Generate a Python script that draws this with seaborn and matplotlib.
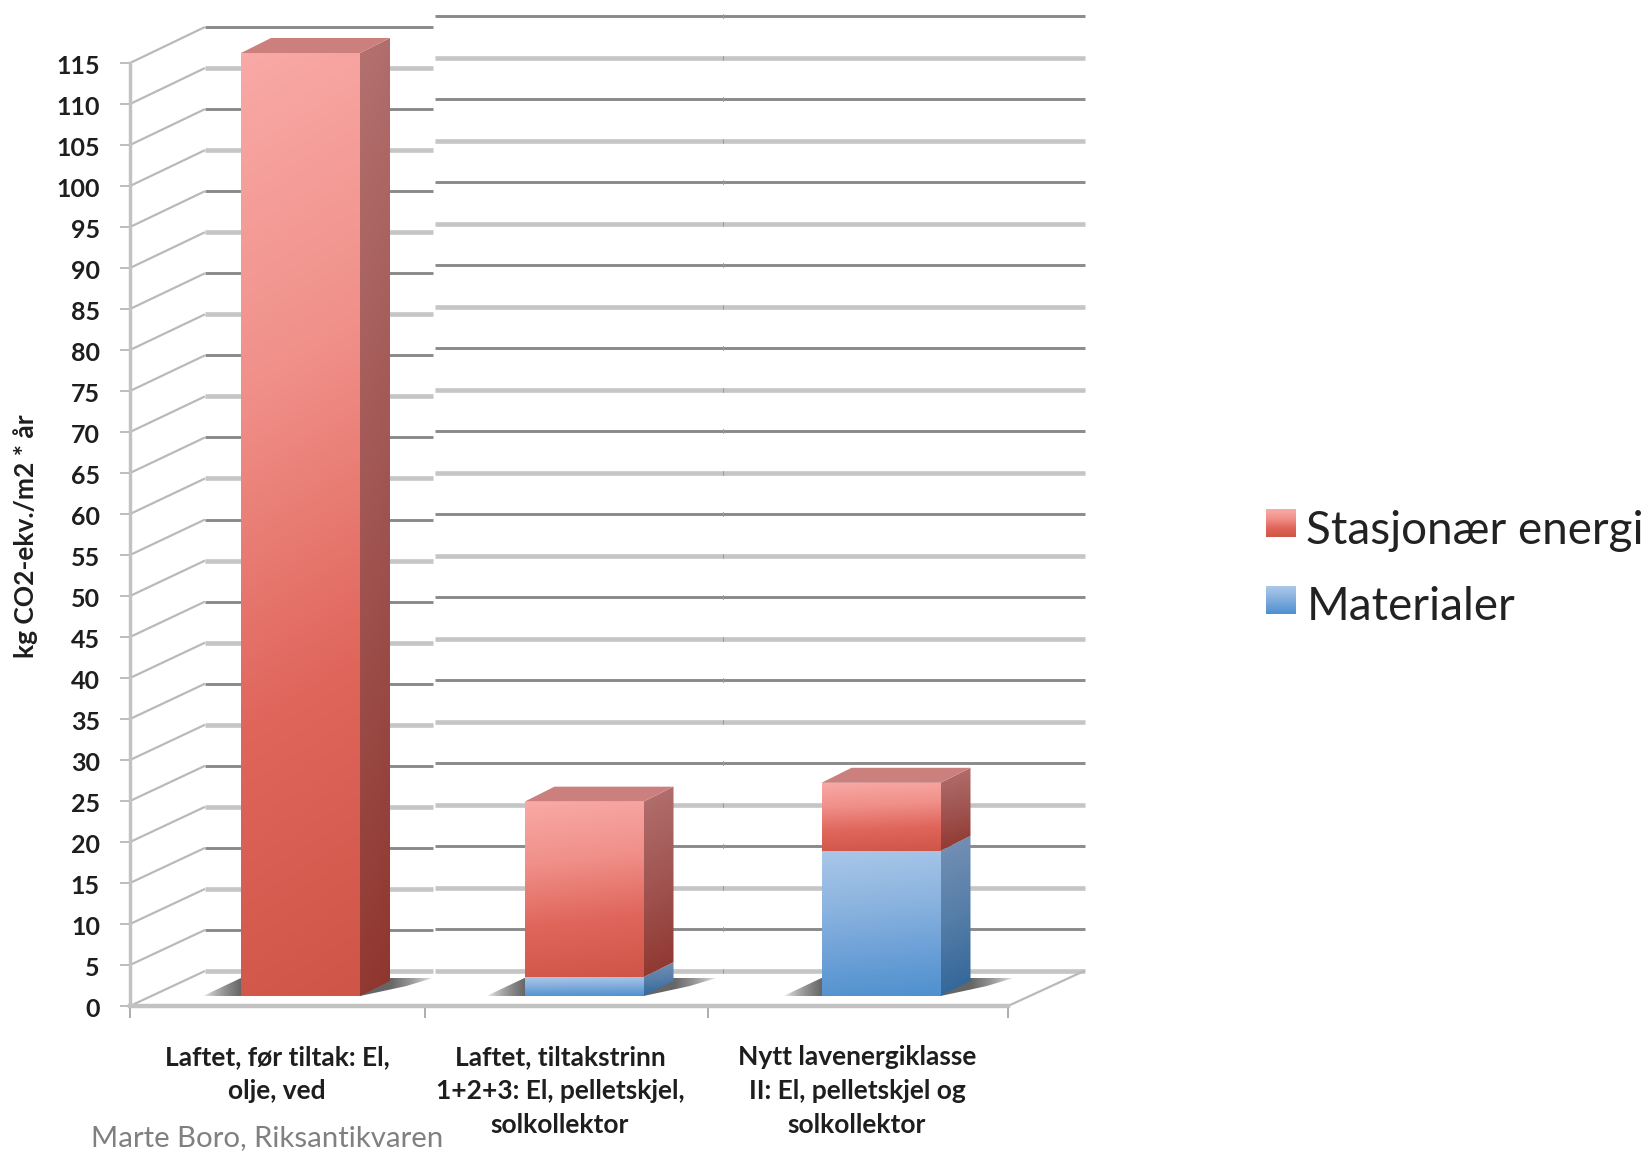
import numpy as np
import pandas as pd
import matplotlib
matplotlib.use("Agg")
import matplotlib.pyplot as plt
from matplotlib.colors import LinearSegmentedColormap, to_rgb
from matplotlib.legend_handler import HandlerBase
from matplotlib.patches import Patch, Polygon, Rectangle
from matplotlib.transforms import ScaledTranslation
import seaborn as sns

# Values, kg CO2-eq. per m2 per year
categories = [
    "Laftet, før tiltak: El,\nolje, ved",
    "Laftet, tiltakstrinn\n1+2+3: El, pelletskjel,\nsolkollektor",
    "Nytt lavenergiklasse\nII: El, pelletskjel og\nsolkollektor",
]
materialer = [0.0, 2.3, 17.7]
stasjonaer = [115.0, 21.4, 8.3]
y_ticks = list(range(0, 120, 5))
series_names = ["Stasjonær energi", "Materialer"]
y_title = "kg CO2-ekv./m2 * år"
credit = "Marte Boro, Riksantikvaren"

# Layout, in pixels of the 1647x1152 canvas
W, H = 1647, 1152
BAR_CENTRES = [300.5, 584.0, 881.0]
BAR_WIDTH = 119.0
LABEL_CENTRES = [277, 560, 857]
X_BOUNDS = [130, 425, 708, 1008]
FRONT_ZERO, FRONT_TOP = 1006.0, 63.0
BASE_PX, PX_PER_UNIT = 996.0, 8.2
DEPTH_PX, DEPTH_UP = 30.0, 15.0

RED_FRONT = ["#F9A9A6", "#F09089", "#E0665C", "#CF5548"]
BLUE_FRONT = ["#A9C7E9", "#8FB6E0", "#6FA2D8", "#4F90CE"]
RED_SIDE = ["#B3716F", "#A05552", "#8F352D"]
BLUE_SIDE = ["#7791B6", "#557EA8", "#2F6496"]
RED_TOP = "#CB807E"
GRID_DARK, GRID_LIGHT = "#8A8A8A", "#C5C5C5"
AXIS_GREY = "#C2C2C2"
INK = "#1E1E1E"

sns.set_theme(style="white")
plt.rcParams["font.family"] = ["Lato", "DejaVu Sans"]
px = 0.72  # one pixel in points at 100 dpi

fig = plt.figure(figsize=(W / 100, H / 100), dpi=100, facecolor="white")

# Back wall, side wall and floor, drawn in canvas pixels
wall = fig.add_axes([0, 0, 1, 1], zorder=0)
wall.set_xlim(0, W)
wall.set_ylim(H, 0)
wall.axis("off")

front_y = lambda v: FRONT_ZERO - (FRONT_ZERO - FRONT_TOP) * v / 115
back_left_y = lambda v: 971.0 - (971.0 - 27.0) * v / 115
back_right_y = lambda v: 970.6 - (970.6 - 16.0) * v / 115

for i, v in enumerate(y_ticks):
    dark = i % 2 == 1
    colour = GRID_DARK if dark else GRID_LIGHT
    lw = (2.9 if dark else 4.6) * px
    wall.plot([130, 205], [front_y(v), back_left_y(v)], color="#B9B9B9",
              lw=2.2 * px, solid_capstyle="butt")
    wall.plot([205, 433], [back_left_y(v)] * 2, color=colour, lw=lw,
              solid_capstyle="butt")
    wall.plot([434.5, 1085], [back_right_y(v)] * 2, color=colour, lw=lw,
              solid_capstyle="butt")
    wall.plot([722.5, 722.5], [back_right_y(v) - 2, back_right_y(v) + 2],
              color="#9A9A9A", lw=1.0 * px)
wall.plot([1008, 1085], [FRONT_ZERO, back_right_y(0)], color="#B9B9B9",
          lw=2.2 * px, solid_capstyle="butt")

# Front axes: value scale and category boundaries
front = fig.add_axes([130 / W, 1 - FRONT_ZERO / H, (1008 - 130) / W,
                      (FRONT_ZERO - FRONT_TOP) / H], zorder=1)
front.patch.set_alpha(0)
front.set_xlim(130, 1008)
front.set_ylim(0, 115)
front.set_yticks(y_ticks, [str(v) for v in y_ticks])
front.set_xticks(X_BOUNDS, [""] * len(X_BOUNDS))
front.set_xticks(LABEL_CENTRES, categories, minor=True, ha="center", va="top",
                 fontsize=19.0, fontweight="bold", color=INK, linespacing=1.5)
front.tick_params(axis="y", length=10 * px, width=1.6 * px, color="#AFAFAF",
                  pad=20 * px, labelsize=18, labelcolor=INK, left=True)
front.tick_params(axis="x", which="major", length=12 * px, width=1.6 * px,
                  color="#9C9C9C", bottom=True)
front.tick_params(axis="x", which="minor", length=0, pad=39 * px)
nudge = ScaledTranslation(0, -1.5 / 100, fig.dpi_scale_trans)
for label in front.get_yticklabels():
    label.set_fontweight("bold")
    label.set_verticalalignment("center_baseline")
    label.set_transform(label.get_transform() + nudge)
sns.despine(ax=front, top=True, right=True)
front.spines["left"].set(color=AXIS_GREY, linewidth=3.4 * px)
front.spines["bottom"].set(color=AXIS_GREY, linewidth=4.4 * px)
wall.plot([433.5, 433.5], [FRONT_ZERO - 4, FRONT_ZERO + 4], color="white",
          lw=1.5 * px, zorder=5)
front.set_ylabel(y_title, fontsize=19, fontweight="bold", color=INK)
front.yaxis.set_label_coords(38 / W, 1 - 536 / H, transform=fig.transFigure)

# Bars on the mid-depth plane; y is in data units, x in canvas pixels
bars = fig.add_axes([0, 0, 1, 1], zorder=2)
bars.patch.set_alpha(0)
table = pd.DataFrame({"pos": BAR_CENTRES, "category": categories,
                      "Materialer": materialer,
                      "Stasjonær energi": stasjonaer})
lower = table[table["Materialer"] > 0]
sns.barplot(data=lower, x="pos", y="Materialer", native_scale=True, ax=bars,
            width=BAR_WIDTH / (BAR_CENTRES[2] - BAR_CENTRES[1]), color="#6FA2D8",
            errorbar=None)
n_lower = len(bars.patches)
for centre, bottom, value in zip(BAR_CENTRES, materialer, stasjonaer):
    bars.bar(centre, value, width=BAR_WIDTH, bottom=bottom, color="#E0665C")
y_low = (BASE_PX - H) / PX_PER_UNIT
y_high = BASE_PX / PX_PER_UNIT
bars.set_xlim(0, W)
bars.set_ylim(y_low, y_high)
bars.set_autoscale_on(False)
bars.axis("off")
up = DEPTH_UP / PX_PER_UNIT


def gradient_fill(ax, verts, stops, zorder):
    """Fill a polygon with a top-to-bottom gradient that leans slightly sideways."""
    verts = np.asarray(verts, dtype=float)
    x0, y0 = verts.min(axis=0)
    x1, y1 = verts.max(axis=0)
    cmap = LinearSegmentedColormap.from_list("face", stops)
    rows = np.linspace(0, 1, 200)[:, None]
    cols = np.linspace(0, 1, 40)[None, :]
    image = ax.imshow(np.clip(0.93 * rows + 0.07 * cols, 0, 1), cmap=cmap,
                      vmin=0, vmax=1, extent=[x0, x1, y0, y1], origin="upper",
                      aspect="auto", interpolation="bilinear", zorder=zorder)
    clip = Polygon(verts, closed=True, transform=ax.transData)
    image.set_clip_path(clip)
    return image


def floor_shadow(ax, x0, x1, zorder):
    """Soft cast shadow on the floor, fading away from the foot of a bar."""
    tip_l, tip_r = x0 - 38, x1 + 73
    height = 18 / PX_PER_UNIT
    xs = np.linspace(tip_l, tip_r, 300)
    fade = np.ones_like(xs)
    fade[xs < x0] = (xs[xs < x0] - tip_l) / (x0 - tip_l)
    far = xs > x1 + DEPTH_PX
    fade[far] = (tip_r - xs[far]) / (tip_r - x1 - DEPTH_PX)
    rgba = np.zeros((2, xs.size, 4))
    rgba[..., :3] = to_rgb("#4A4A4A")
    rgba[..., 3] = 0.85 * fade ** 0.6
    image = ax.imshow(rgba, extent=[tip_l, tip_r, 0, height], origin="upper",
                      aspect="auto", interpolation="bilinear", zorder=zorder)
    outline = Polygon([(tip_l, 0), (x0, height), (tip_r, height),
                       (x1 + 46, height * 0.55), (x1, 0)],
                      closed=True, transform=ax.transData)
    image.set_clip_path(outline)


for centre in BAR_CENTRES:
    floor_shadow(bars, centre - BAR_WIDTH / 2, centre + BAR_WIDTH / 2, 1)

for idx, patch in enumerate(bars.patches):
    is_blue = idx < n_lower
    px0, py0 = patch.get_x(), patch.get_y()
    px1, py1 = px0 + patch.get_width(), py0 + patch.get_height()
    patch.set_visible(False)
    gradient_fill(bars, [(px0, py0), (px1, py0), (px1, py1), (px0, py1)],
                  BLUE_FRONT if is_blue else RED_FRONT, 3)
    gradient_fill(bars, [(px1, py0), (px1 + DEPTH_PX, py0 + up),
                         (px1 + DEPTH_PX, py1 + up), (px1, py1)],
                  BLUE_SIDE if is_blue else RED_SIDE, 3)
    if not is_blue:
        bars.add_patch(Polygon([(px0, py1), (px1, py1),
                                (px1 + DEPTH_PX, py1 + up),
                                (px0 + DEPTH_PX, py1 + up)],
                               closed=True, facecolor=RED_TOP, edgecolor="none",
                               zorder=3))
bars.set_xlim(0, W)
bars.set_ylim(y_low, y_high)


class GradientSwatch(HandlerBase):
    """Legend key drawn as a vertical stack of colour bands."""

    def __init__(self, stops):
        super().__init__()
        self.cmap = LinearSegmentedColormap.from_list("key", stops)

    def create_artists(self, legend, orig_handle, xdescent, ydescent, width,
                       height, fontsize, trans):
        bands = 28
        box_w, box_h = 30.0 * px, 28.0 * px
        left = -xdescent
        bottom = -ydescent + (height - box_h) / 2 + 4.5 * px
        return [Rectangle((left, bottom + box_h * (bands - 1 - k) / bands), box_w,
                          box_h / bands + 0.2, facecolor=self.cmap(k / (bands - 1)),
                          edgecolor="none", transform=trans)
                for k in range(bands)]


key_red = Patch(label=series_names[0])
key_blue = Patch(label=series_names[1])
fig.legend(handles=[key_red, key_blue],
           handler_map={key_red: GradientSwatch(RED_FRONT),
                        key_blue: GradientSwatch(BLUE_FRONT)},
           loc="upper left", bbox_to_anchor=(1266 / W, 1 - 510 / H),
           frameon=False, fontsize=33, labelcolor="#222222", borderpad=0,
           borderaxespad=0, handlelength=0.66, handletextpad=0.22, labelspacing=0.75)

fig.text(91 / W, 1 - 1138 / H, credit, color="#808080", fontsize=21.2,
         ha="left", va="center")

fig.savefig("out.png", dpi=100, facecolor="white")
